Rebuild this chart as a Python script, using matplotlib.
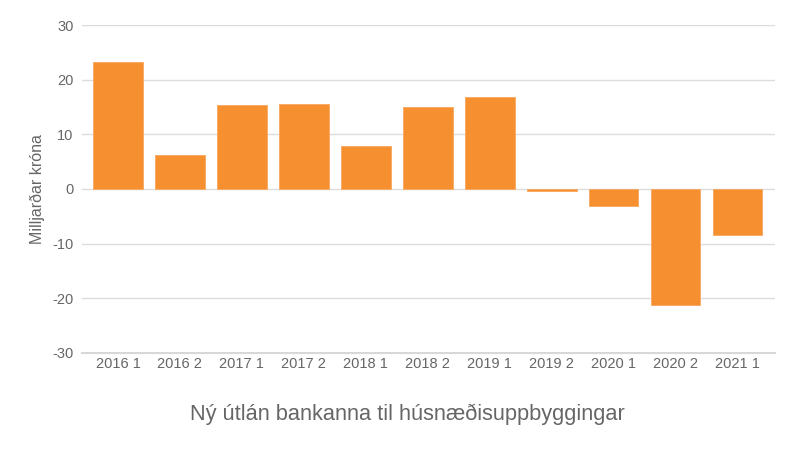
import matplotlib.pyplot as plt

plt.rcParams['font.family'] = ['Liberation Sans', 'DejaVu Sans']
plt.rcParams['axes.unicode_minus'] = False

# ===============================
# Data
# ===============================
periods = ["2016 1", "2016 2", "2017 1", "2017 2", "2018 1", "2018 2",
           "2019 1", "2019 2", "2020 1", "2020 2", "2021 1"]
values = [23.2, 6.2, 15.4, 15.5, 7.9, 15.0, 16.8, -0.4, -3.1, -21.2, -8.4]
y_ticks = [-30, -20, -10, 0, 10, 20, 30]

# ===============================
# Plot
# ===============================
fig = plt.figure(figsize=(8, 4.5), dpi=100)
ax = fig.add_axes([0.1025, 0.216, 0.866, 0.728])

x = range(len(periods))
ax.bar(x, values, width=0.8, color="#f58f2f", edgecolor="#f8a860",
       linewidth=0.6, zorder=3)

ax.set_xlim(-0.58, len(periods) - 0.4)
ax.set_ylim(-30, 30)
ax.set_yticks(y_ticks)
ax.set_xticks(list(x))
ax.set_xticklabels(periods)

ax.grid(axis="y", color="#dcdcdc", linewidth=1, zorder=0)
for s in ["top", "right", "left"]:
    ax.spines[s].set_visible(False)
ax.spines["bottom"].set_color("#d8d8d8")
ax.spines["bottom"].set_linewidth(1.5)
ax.tick_params(axis="both", length=0, colors="#666666", labelsize=10.5)
ax.tick_params(axis="y", pad=6)
ax.tick_params(axis="x", pad=3)

ax.set_ylabel("Milljarðar króna", color="#666666", fontsize=11.5)
ax.yaxis.set_label_coords(-0.054, 0.5)
fig.text(0.509, 0.08, "Ný útlán bankanna til húsnæðisuppbyggingar",
         ha="center", va="center", color="#666666", fontsize=15.7)

fig.savefig("out.png", dpi=100)
